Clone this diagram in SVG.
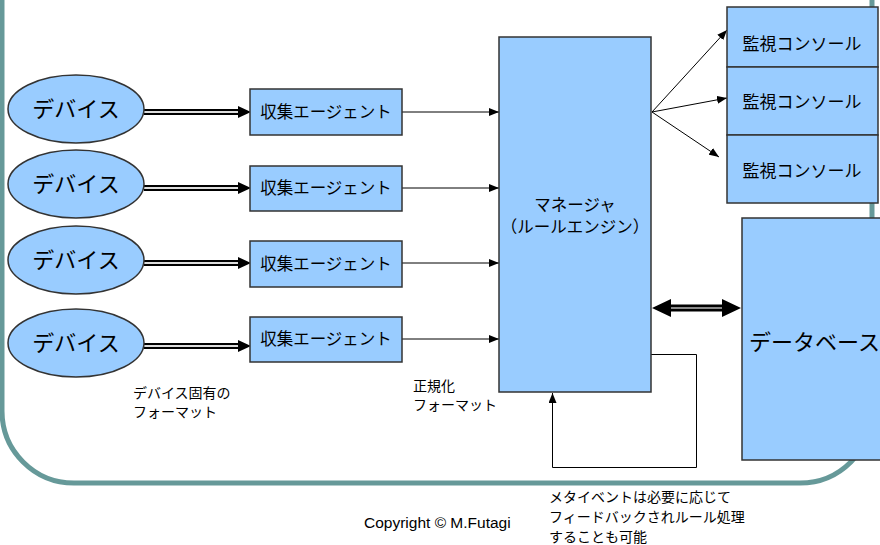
<svg xmlns="http://www.w3.org/2000/svg" width="880" height="545" viewBox="0 0 880 545">
<style>
.box{fill:#99ccff;stroke:#333;stroke-width:1.5}
.t{font-family:"Liberation Sans","Noto Sans CJK JP",sans-serif;fill:#000}
.big{font-size:22px}
.mid{font-size:16.5px}
.sm{font-size:14px}
.ln{stroke:#000;stroke-width:1;fill:none}
</style>
<defs>
<marker id="ah" markerWidth="10" markerHeight="8" refX="10" refY="4" orient="auto" markerUnits="userSpaceOnUse"><path d="M0,0 L10,4 L0,8 Z" fill="#000"/></marker>
</defs>
<rect x="2" y="-100" width="870" height="583" rx="72" ry="72" fill="none" stroke="#669999" stroke-width="5"/>
<g id="connectors">
  <g id="dev-arrows">
    <path d="M144,112 H240 M144,188 H240 M144,263 H240 M144,346 H240" stroke="#000" stroke-width="6"/>
    <path d="M144,112 H240 M144,188 H240 M144,263 H240 M144,346 H240" stroke="#ddd" stroke-width="2"/>
    <path d="M238,106 L251,112 L238,118 Z M238,182 L251,188 L238,194 Z M238,257 L251,263 L238,269 Z M238,340 L251,346 L238,352 Z" fill="#000"/>
  </g>
  <g id="agent-arrows">
    <line x1="402" y1="112" x2="499" y2="112" class="ln" marker-end="url(#ah)"/>
    <line x1="402" y1="188" x2="499" y2="188" class="ln" marker-end="url(#ah)"/>
    <line x1="402" y1="263" x2="499" y2="263" class="ln" marker-end="url(#ah)"/>
    <line x1="402" y1="339" x2="499" y2="339" class="ln" marker-end="url(#ah)"/>
  </g>
  <g id="console-arrows">
    <line x1="652" y1="112" x2="727" y2="30" class="ln" marker-end="url(#ah)"/>
    <line x1="652" y1="112" x2="727" y2="98" class="ln" marker-end="url(#ah)"/>
    <line x1="652" y1="112" x2="719" y2="157" class="ln" marker-end="url(#ah)"/>
  </g>
  <g id="db-arrow">
    <path d="M668,308 H725" stroke="#000" stroke-width="7"/>
    <path d="M668,308 H725" stroke="#888" stroke-width="2"/>
    <path d="M652,308 L671,299 L671,317 Z M741,308 L722,299 L722,317 Z" fill="#000"/>
  </g>
  <path id="feedback" d="M651,354.5 H696.5 V467.5 H552.5 V393" fill="none" stroke="#000" stroke-width="1" marker-end="url(#ah)"/>
</g>
<g id="dev1"><ellipse cx="76" cy="109" rx="68" ry="34" class="box"/><text x="76" y="117" text-anchor="middle" class="t big">デバイス</text></g>
<g id="dev2"><ellipse cx="76" cy="184" rx="68" ry="34" class="box"/><text x="76" y="192" text-anchor="middle" class="t big">デバイス</text></g>
<g id="dev3"><ellipse cx="76" cy="260" rx="68" ry="34" class="box"/><text x="76" y="268" text-anchor="middle" class="t big">デバイス</text></g>
<g id="dev4"><ellipse cx="76" cy="343" rx="68" ry="34" class="box"/><text x="76" y="351" text-anchor="middle" class="t big">デバイス</text></g>
<g id="agent1"><rect x="250" y="89" width="152" height="46" class="box"/><text x="326" y="118" text-anchor="middle" class="t mid">収集エージェント</text></g>
<g id="agent2"><rect x="250" y="166" width="152" height="45" class="box"/><text x="326" y="194" text-anchor="middle" class="t mid">収集エージェント</text></g>
<g id="agent3"><rect x="250" y="241" width="152" height="46" class="box"/><text x="326" y="270" text-anchor="middle" class="t mid">収集エージェント</text></g>
<g id="agent4"><rect x="250" y="317" width="152" height="45" class="box"/><text x="326" y="345" text-anchor="middle" class="t mid">収集エージェント</text></g>
<g id="manager"><rect x="499" y="37" width="152" height="355" class="box"/><text x="575" y="211" text-anchor="middle" class="t mid">マネージャ</text><text x="575" y="233" text-anchor="middle" class="t mid">（ルールエンジン）</text></g>
<g id="console1"><rect x="727" y="7" width="151" height="60" class="box"/><text x="802" y="50" text-anchor="middle" class="t mid" style="font-size:17px">監視コンソール</text></g>
<g id="console2"><rect x="727" y="67" width="151" height="68" class="box"/><text x="802" y="108" text-anchor="middle" class="t mid" style="font-size:17px">監視コンソール</text></g>
<g id="console3"><rect x="727" y="135" width="151" height="68" class="box"/><text x="802" y="177" text-anchor="middle" class="t mid" style="font-size:17px">監視コンソール</text></g>
<g id="database"><rect x="742" y="218" width="150" height="242" class="box"/><text x="749" y="350" class="t big">データベース</text></g>
<g id="labels">
<text x="133" y="398" class="t sm">デバイス固有の</text>
<text x="133" y="417" class="t sm">フォーマット</text>
<text x="413" y="391" class="t sm">正規化</text>
<text x="413" y="410" class="t sm">フォーマット</text>
<text x="364" y="528" class="t" style="font-size:15.5px">Copyright © M.Futagi</text>
<text x="549" y="502" class="t sm">メタイベントは必要に応じて</text>
<text x="549" y="522" class="t sm">フィードバックされルール処理</text>
<text x="549" y="542" class="t sm">することも可能</text>
</g>
</svg>
